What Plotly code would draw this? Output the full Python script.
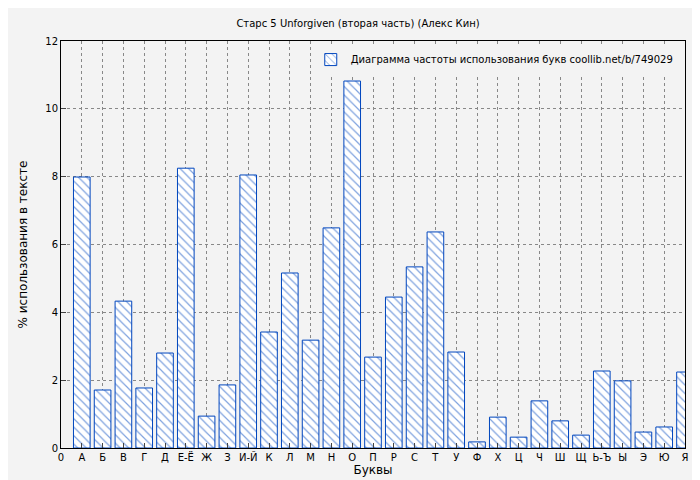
import plotly.graph_objects as go

letters = ["А", "Б", "В", "Г", "Д", "Е-Ё", "Ж", "З", "И-Й", "К", "Л", "М", "Н", "О", "П",
           "Р", "С", "Т", "У", "Ф", "Х", "Ц", "Ч", "Ш", "Щ", "Ь-Ъ", "Ы", "Э", "Ю", "Я"]
values = [7.99, 1.71, 4.33, 1.77, 2.80, 8.25, 0.94, 1.86, 8.05, 3.42, 5.16, 3.18, 6.49, 10.82, 2.68,
          4.45, 5.34, 6.37, 2.83, 0.18, 0.91, 0.32, 1.39, 0.80, 0.38, 2.27, 1.98, 0.47, 0.62, 2.24]
tick_labels = ["0"] + letters

fig = go.Figure()
fig.add_trace(go.Bar(
    x=list(range(1, len(letters) + 1)), y=values, width=0.8,
    name="Диаграмма частоты использования букв coollib.net/b/749029",
    marker=dict(color="white", line=dict(color="#0046be", width=1),
                pattern=dict(shape="\\", fgcolor="#0046be", size=6, solidity=0.2)),
))
fig.update_layout(
    width=700, height=480,
    title=dict(text="Старс 5 Unforgiven (вторая часть) (Алекс Кин)", x=0.5, y=0.975,
               font=dict(size=10, color="black")),
    paper_bgcolor="#f3f3f3", plot_bgcolor="#f3f3f3",
    font=dict(family="DejaVu Sans", size=10, color="black"),
    margin=dict(l=53, r=23, t=33, b=40, autoexpand=False),
    showlegend=True,
    legend=dict(x=0.99, y=0.99, xanchor="right", yanchor="top", bgcolor="#f3f3f3",
                font=dict(size=10)),
)
fig.update_xaxes(range=[0, 30], tickvals=list(range(0, 31)), ticktext=tick_labels,
                 title_text="Буквы", title_standoff=2, showgrid=True, gridcolor="#888",
                 griddash="dot", showline=True, linecolor="black", mirror=True,
                 ticks="inside", zeroline=False, automargin=False)
fig.update_yaxes(range=[0, 12], dtick=2, title_text="% использования в тексте",
                 showgrid=True, gridcolor="#888", griddash="dot", showline=True,
                 linecolor="black", mirror=True, ticks="inside", zeroline=False,
                 automargin=False)
fig.write_html("out.html")
